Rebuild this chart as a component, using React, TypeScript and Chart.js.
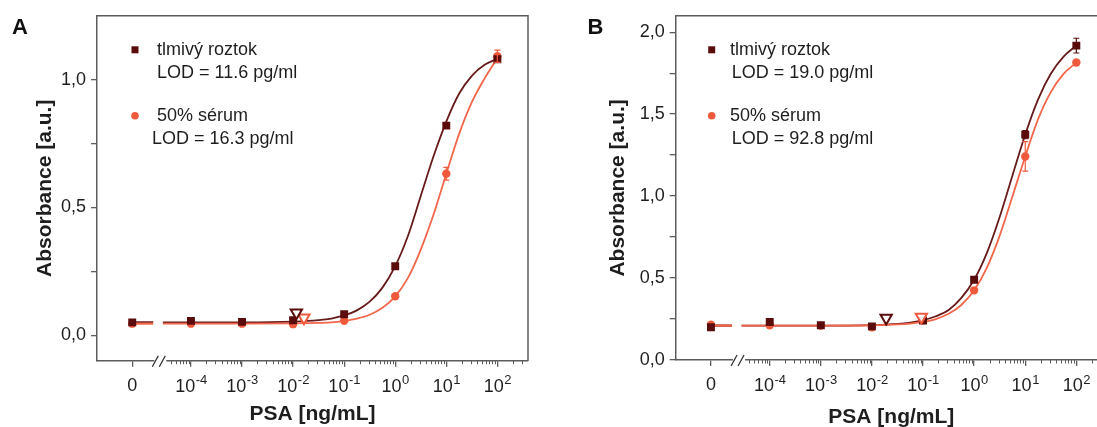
import React, { useEffect, useRef } from 'react';
import { Chart, registerables } from 'chart.js';

Chart.register(...registerables);

const FONT = "'Liberation Sans', Arial, Helvetica, sans-serif";
const DARK = '#5a0c0c';
const DARK_LINE = '#661a1a';
const RED = '#f05a3c';
const RED_LINE = '#f2674a';
const AXIS = '#5c5c5c';
const TEXT = '#1e1e1e';

// ---------- data ----------
// PSA concentrations (ng/mL); 0 = blank, drawn left of the axis break
const concentrations = [0, 1e-4, 1e-3, 1e-2, 1e-1, 1, 10, 100];
const xTickBase = ['0', '10', '10', '10', '10', '10', '10', '10'];
const xTickExponent = ['', '-4', '-3', '-2', '-1', '0', '1', '2'];

// Panel A
const bufferA = [0.05, 0.056, 0.052, 0.058, 0.082, 0.27, 0.82, 1.08];
const bufferAErr = [0.004, 0.004, 0.004, 0.005, 0.006, 0.01, 0.012, 0.012];
const serumA = [0.045, 0.045, 0.045, 0.043, 0.056, 0.152, 0.632, 1.092];
const serumAErr = [0.004, 0.004, 0.004, 0.004, 0.005, 0.008, 0.025, 0.024];
const lodA = [0.0116, 0.0163];
const lodAbsA = [0.088, 0.068];
const yTicksA = [0, 0.25, 0.5, 0.75, 1.0];

// Panel B
const bufferB = [0.2, 0.232, 0.212, 0.205, 0.24, 0.49, 1.375, 1.918];
const bufferBErr = [0.005, 0.006, 0.005, 0.005, 0.008, 0.02, 0.025, 0.045];
const serumB = [0.215, 0.212, 0.21, 0.2, 0.242, 0.425, 1.242, 1.815];
const serumBErr = [0.005, 0.005, 0.005, 0.005, 0.008, 0.02, 0.09, 0.02];
const lodB = [0.019, 0.0928];
const lodAbsB = [0.256, 0.262];
const yTicksB = [0, 0.25, 0.5, 0.75, 1.0, 1.25, 1.5, 1.75, 2.0];

// fitted curves at these log10(concentration) knots
const fitLogs = [-4.55, -4, -3, -2, -1.5, -1.25, -1, -0.75, -0.5, -0.25, 0, 0.25, 0.5, 0.75, 1, 1.25, 1.5, 1.75, 2];
const fitBufferA = [0.05, 0.05, 0.05, 0.0527, 0.0586, 0.065, 0.077, 0.097, 0.131, 0.186, 0.27, 0.389, 0.545, 0.7, 0.836, 0.945, 1.015, 1.058, 1.082];
const fitSerumA = [0.045, 0.045, 0.045, 0.046, 0.048, 0.05, 0.056, 0.065, 0.08, 0.107, 0.152, 0.224, 0.335, 0.472, 0.632, 0.787, 0.912, 1.005, 1.085];
const fitBufferB = [0.21, 0.21, 0.21, 0.2133, 0.2204, 0.2284, 0.2426, 0.267, 0.305, 0.379, 0.49, 0.654, 0.8725, 1.126, 1.376, 1.589, 1.746, 1.851, 1.918];
const fitSerumB = [0.21, 0.21, 0.21, 0.2121, 0.2169, 0.2224, 0.2324, 0.25, 0.2817, 0.3357, 0.425, 0.5634, 0.7587, 0.9985, 1.242, 1.468, 1.6345, 1.746, 1.814];

const legendNames = ['tlmivý roztok', '50% sérum'];
const lodTextsA = ['LOD = 11.6 pg/ml', 'LOD = 16.3 pg/ml'];
const lodTextsB = ['LOD = 19.0 pg/ml', 'LOD = 92.8 pg/ml'];

// ---------- axis geometry (log10 units) ----------
const X_MIN = -5.84;
const X_MAX = 2.6;
const ZERO_POS = -5.15; // where the blank ("0") sits
const BREAK_POS = -4.62;
const DASH_END = -4.74;

const xPos = (c: number) => (c === 0 ? ZERO_POS : Math.log10(c));
const xTickPositions = concentrations.map(xPos);

type PanelCfg = {
  letter: string;
  left: number;
  width: number;
  yAxisWidth: number;
  padRight: number;
  bottom: number;
  yMin: number;
  yMax: number;
  yTicks: number[];
  buffer: number[];
  bufferErr: number[];
  serum: number[];
  serumErr: number[];
  lod: number[];
  lodAbs: number[];
  fitBuffer: number[];
  fitSerum: number[];
  lodTexts: string[];
  yTitlePad: number;
  xTitlePad: number;
  letterX: number;
  legendMarkerDx: number;
  legendTextDx: number[];
  lodTextDx: number[];
};

const TOP = 14;
const H = 427;

function fmtComma(v: number) {
  return v.toFixed(1).replace('.', ',');
}

function makeChart(canvas: HTMLCanvasElement, p: PanelCfg) {
  const pts = (ys: number[]) => concentrations.map((c, i) => ({ x: xPos(c), y: ys[i] }));
  const fit = (ys: number[]) => fitLogs.map((x, i) => ({ x, y: ys[i] }));

  const datasets: any[] = [
    {
      label: 'LOD ' + legendNames[0],
      data: [{ x: Math.log10(p.lod[0]), y: p.lodAbs[0] }],
      showLine: false,
      pointStyle: 'triangle',
      rotation: 180,
      pointRadius: 6.5,
      borderWidth: 2,
      borderColor: DARK,
      backgroundColor: 'rgba(255,255,255,0.9)',
      order: 0,
    },
    {
      label: 'LOD ' + legendNames[1],
      data: [{ x: Math.log10(p.lod[1]), y: p.lodAbs[1] }],
      showLine: false,
      pointStyle: 'triangle',
      rotation: 180,
      pointRadius: 6.5,
      borderWidth: 2,
      borderColor: RED,
      backgroundColor: 'rgba(255,255,255,0.9)',
      order: 0,
    },
    {
      label: legendNames[0],
      data: pts(p.buffer),
      errorBars: p.bufferErr,
      showLine: false,
      pointStyle: 'rect',
      pointRadius: 5.6,
      borderWidth: 0,
      backgroundColor: DARK,
      borderColor: DARK,
      order: 1,
    },
    {
      label: legendNames[1],
      data: pts(p.serum),
      errorBars: p.serumErr,
      showLine: false,
      pointStyle: 'circle',
      pointRadius: 4.2,
      borderWidth: 0,
      backgroundColor: RED,
      borderColor: RED,
      order: 2,
    },
    {
      label: 'fit ' + legendNames[0],
      data: fit(p.fitBuffer),
      showLine: true,
      pointRadius: 0,
      borderWidth: 1.8,
      borderColor: DARK_LINE,
      cubicInterpolationMode: 'monotone',
      order: 4,
    },
    {
      label: 'fit ' + legendNames[1],
      data: fit(p.fitSerum),
      showLine: true,
      pointRadius: 0,
      borderWidth: 1.8,
      borderColor: RED_LINE,
      cubicInterpolationMode: 'monotone',
      order: 3,
    },
    {
      label: 'blank ' + legendNames[0],
      data: [
        { x: ZERO_POS, y: p.fitBuffer[0] },
        { x: DASH_END, y: p.fitBuffer[0] },
      ],
      showLine: true,
      pointRadius: 0,
      borderWidth: 2.2,
      borderColor: DARK_LINE,
      order: 4,
    },
    {
      label: 'blank ' + legendNames[1],
      data: [
        { x: ZERO_POS, y: p.fitSerum[0] },
        { x: DASH_END, y: p.fitSerum[0] },
      ],
      showLine: true,
      pointRadius: 0,
      borderWidth: 2.2,
      borderColor: RED_LINE,
      order: 3,
    },
  ];

  const framePlugin = {
    id: 'frame',
    afterDraw(chart: any) {
      const { ctx, chartArea: a, scales } = chart;
      ctx.save();
      ctx.strokeStyle = AXIS;
      ctx.lineWidth = 1.5;
      ctx.beginPath();
      ctx.moveTo(a.left, a.top);
      ctx.lineTo(a.right, a.top);
      ctx.lineTo(a.right, a.bottom);
      ctx.stroke();

      // minor log ticks
      const xs = scales.x;
      ctx.lineWidth = 1;
      ctx.beginPath();
      for (let d = -6; d <= 2; d++) {
        for (let k = 2; k <= 9; k++) {
          const v = d + Math.log10(k);
          if (v <= BREAK_POS + 0.17 || v > X_MAX) continue;
          const px = Math.round(xs.getPixelForValue(v)) + 0.5;
          ctx.moveTo(px, a.bottom);
          ctx.lineTo(px, a.bottom + 3.5);
        }
      }
      ctx.stroke();

      // axis break
      const bx = xs.getPixelForValue(BREAK_POS);
      const by = a.bottom;
      ctx.fillStyle = '#ffffff';
      ctx.fillRect(bx - 5, by - 2, 12, 4);
      ctx.strokeStyle = '#333';
      ctx.lineWidth = 1.3;
      ctx.beginPath();
      ctx.moveTo(bx - 7, by + 6);
      ctx.lineTo(bx - 1, by - 5);
      ctx.moveTo(bx, by + 6);
      ctx.lineTo(bx + 6, by - 5);
      ctx.stroke();

      // x tick labels with superscript exponents
      ctx.fillStyle = TEXT;
      ctx.textBaseline = 'middle';
      ctx.textAlign = 'left';
      xTickPositions.forEach((v, i) => {
        const px = xs.getPixelForValue(v);
        const base = xTickBase[i];
        const exp = xTickExponent[i];
        ctx.font = `18px ${FONT}`;
        const w1 = ctx.measureText(base).width;
        if (!exp) {
          ctx.fillText(base, px - w1 / 2, a.bottom + 25);
          return;
        }
        ctx.font = `13px ${FONT}`;
        const w2 = ctx.measureText(exp).width;
        const start = px - (w1 + w2) / 2;
        ctx.font = `18px ${FONT}`;
        ctx.fillText(base, start, a.bottom + 26.5);
        ctx.font = `13px ${FONT}`;
        ctx.fillText(exp, start + w1 + 0.5, a.bottom + 20);
      });
      ctx.restore();
    },
  };

  const errorPlugin = {
    id: 'errbars',
    afterDatasetsDraw(chart: any) {
      const { ctx, scales } = chart;
      ctx.save();
      chart.data.datasets.forEach((ds: any) => {
        if (!ds.errorBars) return;
        ctx.strokeStyle = ds.borderColor;
        ctx.lineWidth = 1.2;
        ds.data.forEach((pt: any, i: number) => {
          const e = ds.errorBars[i];
          const px = scales.x.getPixelForValue(pt.x);
          const y1 = scales.y.getPixelForValue(pt.y + e);
          const y2 = scales.y.getPixelForValue(pt.y - e);
          if (Math.abs(y2 - y1) < 8) return;
          ctx.beginPath();
          ctx.moveTo(px, y1);
          ctx.lineTo(px, y2);
          ctx.moveTo(px - 3, y1);
          ctx.lineTo(px + 3, y1);
          ctx.moveTo(px - 3, y2);
          ctx.lineTo(px + 3, y2);
          ctx.stroke();
        });
      });
      ctx.restore();
    },
  };

  const legendPlugin = {
    id: 'customLegend',
    afterDraw(chart: any) {
      const { ctx, chartArea: a } = chart;
      ctx.save();
      ctx.font = `18px ${FONT}`;
      ctx.fillStyle = TEXT;
      ctx.textBaseline = 'middle';
      ctx.textAlign = 'left';
      const rows = [33, 99];
      rows.forEach((dy, i) => {
        const y = a.top + dy;
        const mx = a.left + p.legendMarkerDx;
        if (i === 0) {
          ctx.fillStyle = DARK;
          ctx.fillRect(mx - 3.5, y - 2.5, 7, 7);
        } else {
          ctx.fillStyle = RED;
          ctx.beginPath();
          ctx.arc(mx, y + 1, 3.8, 0, Math.PI * 2);
          ctx.fill();
        }
        ctx.fillStyle = TEXT;
        ctx.fillText(legendNames[i], a.left + p.legendTextDx[i], y + 1);
        ctx.fillText(p.lodTexts[i], a.left + p.lodTextDx[i], y + 24);
      });
      // panel letter
      ctx.font = `bold 22px ${FONT}`;
      ctx.fillStyle = '#111';
      ctx.textAlign = 'center';
      ctx.fillText(p.letter, p.letterX, 28);
      ctx.restore();
    },
  };

  return new Chart(canvas, {
    type: 'line',
    data: { datasets },
    options: {
      animation: false,
      responsive: false,
      maintainAspectRatio: false,
      devicePixelRatio: 1,
      layout: { padding: { top: TOP, right: p.padRight, left: 0, bottom: 0 } },
      plugins: { legend: { display: false }, tooltip: { enabled: false } },
      scales: {
        x: {
          type: 'linear',
          min: X_MIN,
          max: X_MAX,
          afterBuildTicks: (s: any) => {
            s.ticks = xTickPositions.map((v) => ({ value: v }));
          },
          afterFit: (s: any) => {
            s.height = H - p.bottom;
          },
          ticks: { display: false, autoSkip: false },
          grid: { drawOnChartArea: false, drawTicks: true, tickLength: 6, color: AXIS, lineWidth: 1.3 },
          border: { display: true, color: AXIS, width: 1.5 },
          title: {
            display: true,
            text: 'PSA [ng/mL]',
            color: TEXT,
            font: { family: FONT, size: 21, weight: 'bold' },
            padding: { top: 0, bottom: p.xTitlePad },
          },
        },
        y: {
          type: 'linear',
          min: p.yMin,
          max: p.yMax,
          afterBuildTicks: (s: any) => {
            s.ticks = p.yTicks.map((v) => ({ value: v }));
          },
          afterFit: (s: any) => {
            s.width = p.yAxisWidth;
          },
          ticks: {
            padding: 5,
            color: TEXT,
            font: { family: FONT, size: 18 },
            callback: (v: any) => (Math.abs((v * 2) % 1) < 1e-6 ? fmtComma(v) : ''),
          },
          grid: { drawOnChartArea: false, drawTicks: true, tickLength: 6, color: AXIS, lineWidth: 1.3 },
          border: { display: true, color: AXIS, width: 1.5 },
          title: {
            display: true,
            text: 'Absorbance [a.u.]',
            color: TEXT,
            font: { family: FONT, size: 21, weight: 'bold' },
            padding: { top: p.yTitlePad, bottom: 0 },
          },
        },
      },
    } as any,
    plugins: [framePlugin, errorPlugin, legendPlugin],
  });
}

const panelA: PanelCfg = {
  letter: 'A',
  left: 0,
  width: 550,
  yAxisWidth: 97,
  padRight: 22,
  bottom: 360.7,
  yMin: -0.1,
  yMax: 1.25,
  yTicks: yTicksA,
  buffer: bufferA,
  bufferErr: bufferAErr,
  serum: serumA,
  serumErr: serumAErr,
  lod: lodA,
  lodAbs: lodAbsA,
  fitBuffer: fitBufferA,
  fitSerum: fitSerumA,
  lodTexts: lodTextsA,
  yTitlePad: 33,
  xTitlePad: 0,
  letterX: 20,
  legendMarkerDx: 38,
  legendTextDx: [60, 60],
  lodTextDx: [60, 55],
};

const panelB: PanelCfg = {
  letter: 'B',
  left: 560,
  width: 575,
  yAxisWidth: 115.7,
  padRight: 28,
  bottom: 360,
  yMin: 0,
  yMax: 2.1,
  yTicks: yTicksB,
  buffer: bufferB,
  bufferErr: bufferBErr,
  serum: serumB,
  serumErr: serumBErr,
  lod: lodB,
  lodAbs: lodAbsB,
  fitBuffer: fitBufferB,
  fitSerum: fitSerumB,
  lodTexts: lodTextsB,
  yTitlePad: 46,
  xTitlePad: -3,
  letterX: 35.5,
  legendMarkerDx: 36,
  legendTextDx: [54.3, 54.3],
  lodTextDx: [56, 56],
};

function Panel({ cfg }: { cfg: PanelCfg }) {
  const ref = useRef<HTMLCanvasElement | null>(null);
  useEffect(() => {
    if (!ref.current) return;
    const chart = makeChart(ref.current, cfg);
    return () => chart.destroy();
  }, [cfg]);
  return (
    <canvas
      ref={ref}
      width={cfg.width}
      height={H}
      style={{ position: 'absolute', left: cfg.left, top: 0, width: cfg.width, height: H }}
    />
  );
}

export default function App() {
  return (
    <div
      style={{
        position: 'absolute',
        left: 0,
        top: 0,
        width: 1097,
        height: 427,
        overflow: 'hidden',
        background: '#ffffff',
      }}
    >
      <Panel cfg={panelA} />
      <Panel cfg={panelB} />
    </div>
  );
}
